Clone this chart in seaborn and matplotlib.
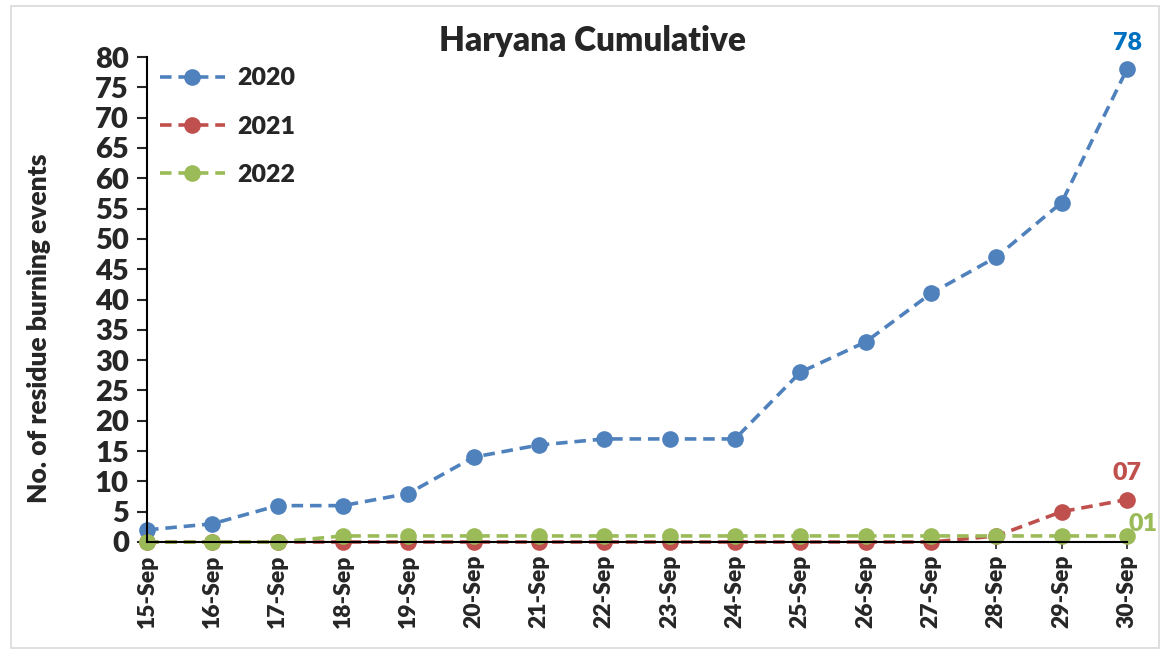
import pandas as pd
import matplotlib.pyplot as plt
import seaborn as sns
from matplotlib.patches import Rectangle

dates = ["15-Sep", "16-Sep", "17-Sep", "18-Sep", "19-Sep", "20-Sep", "21-Sep", "22-Sep",
         "23-Sep", "24-Sep", "25-Sep", "26-Sep", "27-Sep", "28-Sep", "29-Sep", "30-Sep"]
y2020 = [2, 3, 6, 6, 8, 14, 16, 17, 17, 17, 28, 33, 41, 47, 56, 78]
y2021 = [0, 0, 0, 0, 0, 0, 0, 0, 0, 0, 0, 0, 0, 1, 5, 7]
y2022 = [0, 0, 0, 1, 1, 1, 1, 1, 1, 1, 1, 1, 1, 1, 1, 1]
years = ["2020", "2021", "2022"]
colors = ["#4F81BD", "#C0504D", "#9BBB59"]
end_labels = ["78", "07", "01"]
label_colors = ["#0070C0", "#C0504D", "#9BBB59"]

sns.set_style("white")
plt.rcParams['font.family'] = ['Lato', 'DejaVu Sans']
W = "heavy"
plt.rcParams['font.weight'] = W

fig = plt.figure(figsize=(11.64, 6.52), dpi=100)
ax = fig.add_axes([147 / 1164, 1 - 542 / 652, (1127 - 147) / 1164, (542 - 57) / 652])

# outer frame like the excel chart area
fig.patches.append(Rectangle((11 / 1164, 4 / 652), 1148 / 1164, 642 / 652, transform=fig.transFigure,
                             fill=False, edgecolor="#D9D9D9", linewidth=1.2))

x = list(range(len(dates)))
for yr, vals, c in zip(years, [y2020, y2021, y2022], colors):
    df = pd.DataFrame({"x": x, "y": vals})
    sns.lineplot(data=df, x="x", y="y", ax=ax, color=c, linestyle=(0, (3.2, 1.9)), linewidth=2.6,
                 marker="o", markersize=12, markeredgewidth=0, label=yr, clip_on=False)

# end labels
ax.annotate(end_labels[0], (x[-1], y2020[-1]), xytext=(0, 11), textcoords="offset points",
            ha="center", va="bottom", color=label_colors[0], fontsize=18, fontweight=W)
ax.annotate(end_labels[1], (x[-1], y2021[-1]), xytext=(0, 11), textcoords="offset points",
            ha="center", va="bottom", color=label_colors[1], fontsize=18, fontweight=W)
ax.annotate(end_labels[2], (x[-1], y2022[-1]), xytext=(1, 1), textcoords="offset points",
            ha="left", va="bottom", color=label_colors[2], fontsize=18, fontweight=W)

ax.set_xlim(0, len(dates) - 1)
ax.set_ylim(0, 80)
ax.set_yticks(range(0, 81, 5))
ax.set_xticks(x)
ax.set_xticklabels(dates, rotation=90, fontsize=16.5, fontweight=W)
ax.tick_params(axis="y", labelsize=21, direction="out", length=7, width=1.5, left=True, pad=6)
ax.tick_params(axis="x", direction="out", length=5, width=1.2, bottom=True, pad=4)
for lab in ax.get_yticklabels():
    lab.set_fontweight(W)

for s in ["top", "right"]:
    ax.spines[s].set_visible(False)
ax.spines["left"].set_color("black")
ax.spines["left"].set_linewidth(1.5)
ax.spines["bottom"].set_color("black")
ax.spines["bottom"].set_linewidth(1.5)

ax.set_xlabel("")
ax.set_ylabel("No. of residue burning events", fontsize=19, fontweight=W)
ax.yaxis.set_label_coords(-0.098, 0.44)
ax.set_title("Haryana Cumulative", fontsize=24, fontweight=W, x=0.455, pad=4)

leg = ax.legend(loc="upper left", bbox_to_anchor=(-0.01, 1.025), frameon=False, fontsize=18,
                handlelength=2.6, handletextpad=0.5, labelspacing=1.05)
for t in leg.get_texts():
    t.set_fontweight(W)

fig.savefig("out.png", dpi=100)
